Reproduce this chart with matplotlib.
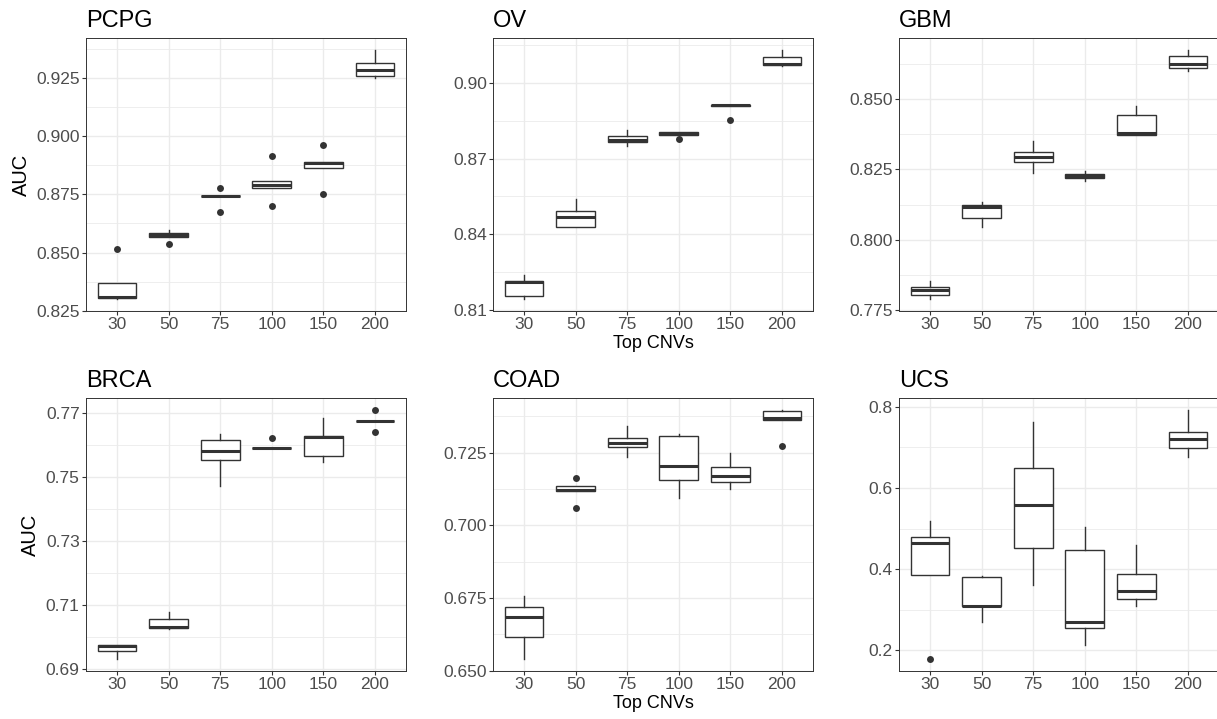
import numpy as np
import matplotlib
matplotlib.use('Agg')
import matplotlib.pyplot as plt
from matplotlib.ticker import FixedLocator, FormatStrFormatter

plt.rcParams['font.family'] = ['Liberation Sans', 'DejaVu Sans']

top_cnvs = ['30', '50', '75', '100', '150', '200']
titles = ['PCPG', 'OV', 'GBM', 'BRCA', 'COAD', 'UCS']

# box stats per group: [whisker low, q1, median, q3, whisker high]
pcpg_stats = [[0.8302, 0.8303, 0.8309, 0.8367, 0.8367],
              [0.8568, 0.8568, 0.8575, 0.8586, 0.8596],
              [0.8741, 0.8741, 0.8742, 0.8743, 0.8743],
              [0.8778, 0.8778, 0.8792, 0.8808, 0.8808],
              [0.8862, 0.8862, 0.8885, 0.8891, 0.8891],
              [0.9251, 0.9259, 0.9284, 0.9316, 0.9369]]
pcpg_out = [[0.8515], [0.8538], [0.8779, 0.8676], [0.8914, 0.8699], [0.8964, 0.8751], []]

ov_stats = [[0.8146, 0.8156, 0.8210, 0.8215, 0.8241],
            [0.8429, 0.8429, 0.8467, 0.8494, 0.8541],
            [0.8750, 0.8767, 0.8774, 0.8789, 0.8815],
            [0.8793, 0.8793, 0.8798, 0.8806, 0.8806],
            [0.8910, 0.8910, 0.8911, 0.8912, 0.8912],
            [0.9066, 0.9070, 0.9073, 0.9100, 0.9128]]
ov_out = [[], [], [], [0.8777], [0.8853], []]

gbm_stats = [[0.7790, 0.7803, 0.7820, 0.7833, 0.7851],
             [0.8044, 0.8078, 0.8115, 0.8124, 0.8134],
             [0.8236, 0.8276, 0.8295, 0.8313, 0.8351],
             [0.8209, 0.8219, 0.8227, 0.8235, 0.8246],
             [0.8371, 0.8371, 0.8381, 0.8443, 0.8477],
             [0.8600, 0.8611, 0.8627, 0.8653, 0.8674]]
gbm_out = [[], [], [], [], [], []]

brca_stats = [[0.6933, 0.6957, 0.6972, 0.6975, 0.6975],
              [0.7024, 0.7028, 0.7031, 0.7058, 0.7079],
              [0.7474, 0.7555, 0.7581, 0.7618, 0.7636],
              [0.7590, 0.7590, 0.7591, 0.7592, 0.7592],
              [0.7549, 0.7565, 0.7626, 0.7628, 0.7684],
              [0.7675, 0.7675, 0.7676, 0.7677, 0.7677]]
brca_out = [[], [], [], [0.7623], [], [0.7709, 0.7642]]

coad_stats = [[0.6542, 0.6615, 0.6686, 0.6721, 0.6758],
              [0.7118, 0.7118, 0.7122, 0.7134, 0.7134],
              [0.7234, 0.7269, 0.7282, 0.7301, 0.7340],
              [0.7094, 0.7155, 0.7204, 0.7308, 0.7313],
              [0.7124, 0.7148, 0.7168, 0.7201, 0.7248],
              [0.7363, 0.7363, 0.7369, 0.7393, 0.7395]]
coad_out = [[], [0.7162, 0.7058], [], [], [], [0.7273]]

ucs_stats = [[0.3861, 0.3861, 0.4648, 0.4795, 0.5197],
             [0.2697, 0.3090, 0.3098, 0.3811, 0.3836],
             [0.3615, 0.4525, 0.5574, 0.6500, 0.7615],
             [0.2131, 0.2541, 0.2689, 0.4459, 0.5025],
             [0.3090, 0.3254, 0.3467, 0.3877, 0.4598],
             [0.6762, 0.6984, 0.7213, 0.7377, 0.7910]]
ucs_out = [[0.1795], [], [], [], [], []]

pcpg_ticks = [0.825, 0.850, 0.875, 0.900, 0.925]
ov_ticks = [0.81, 0.84, 0.87, 0.90]
gbm_ticks = [0.775, 0.800, 0.825, 0.850]
brca_ticks = [0.69, 0.71, 0.73, 0.75, 0.77]
coad_ticks = [0.650, 0.675, 0.700, 0.725]
ucs_ticks = [0.2, 0.4, 0.6, 0.8]

all_stats = [pcpg_stats, ov_stats, gbm_stats, brca_stats, coad_stats, ucs_stats]
all_out = [pcpg_out, ov_out, gbm_out, brca_out, coad_out, ucs_out]
all_ticks = [pcpg_ticks, ov_ticks, gbm_ticks, brca_ticks, coad_ticks, ucs_ticks]
fmts = ['%.3f', '%.2f', '%.3f', '%.2f', '%.3f', '%.1f']

W, H = 1217, 719
fig = plt.figure(figsize=(W / 100, H / 100), dpi=100)
lefts = [86, 493, 899]
tops = [38, 398]
pw, ph = 320, 273

dark = '#333333'
for k in range(6):
    r, c = divmod(k, 3)
    ax = fig.add_axes([lefts[c] / W, (H - tops[r] - ph) / H, pw / W, ph / H])
    st = all_stats[k]
    bx = []
    for s, o in zip(st, all_out[k]):
        bx.append(dict(whislo=s[0], q1=s[1], med=s[2], q3=s[3], whishi=s[4], fliers=o))
    ax.bxp(bx, positions=np.arange(1, 7), widths=0.75, patch_artist=True, showcaps=False,
           boxprops=dict(facecolor='white', edgecolor=dark, linewidth=1.0),
           whiskerprops=dict(color=dark, linewidth=1.0),
           medianprops=dict(color=dark, linewidth=2.2, solid_capstyle='butt'),
           flierprops=dict(marker='o', markerfacecolor=dark, markeredgecolor='none', markersize=5))
    # ggplot style 5% expansion of the data range
    vals = [v for s in st for v in s] + [v for o in all_out[k] for v in o]
    lo, hi = min(vals), max(vals)
    ax.set_ylim(lo - 0.05 * (hi - lo), hi + 0.05 * (hi - lo))
    ax.set_xlim(0.4, 6.6)
    ticks = all_ticks[k]
    step = ticks[1] - ticks[0]
    ax.yaxis.set_major_locator(FixedLocator(ticks))
    ax.yaxis.set_minor_locator(FixedLocator(np.arange(ticks[0] - step / 2, ticks[-1] + step, step)))
    ax.yaxis.set_major_formatter(FormatStrFormatter(fmts[k]))
    ax.set_xticks(np.arange(1, 7))
    ax.set_xticklabels(top_cnvs)
    ax.set_axisbelow(True)
    ax.grid(which='major', color='#EBEBEB', linewidth=1.0)
    ax.grid(which='minor', axis='y', color='#EBEBEB', linewidth=0.6)
    ax.tick_params(which='major', length=3, width=0.8, color=dark, labelcolor='#4D4D4D',
                   labelsize=12.5, pad=1.5)
    ax.tick_params(which='minor', length=0)
    for sp in ax.spines.values():
        sp.set_color(dark)
        sp.set_linewidth(0.7)
    ax.set_title(titles[k], loc='left', fontsize=17, pad=8)
    if c == 0:
        ax.set_ylabel('AUC', fontsize=14.5, labelpad=4)
    if c == 1:
        ax.set_xlabel('Top CNVs', fontsize=13, labelpad=2)

fig.savefig('out.png', dpi=100)
